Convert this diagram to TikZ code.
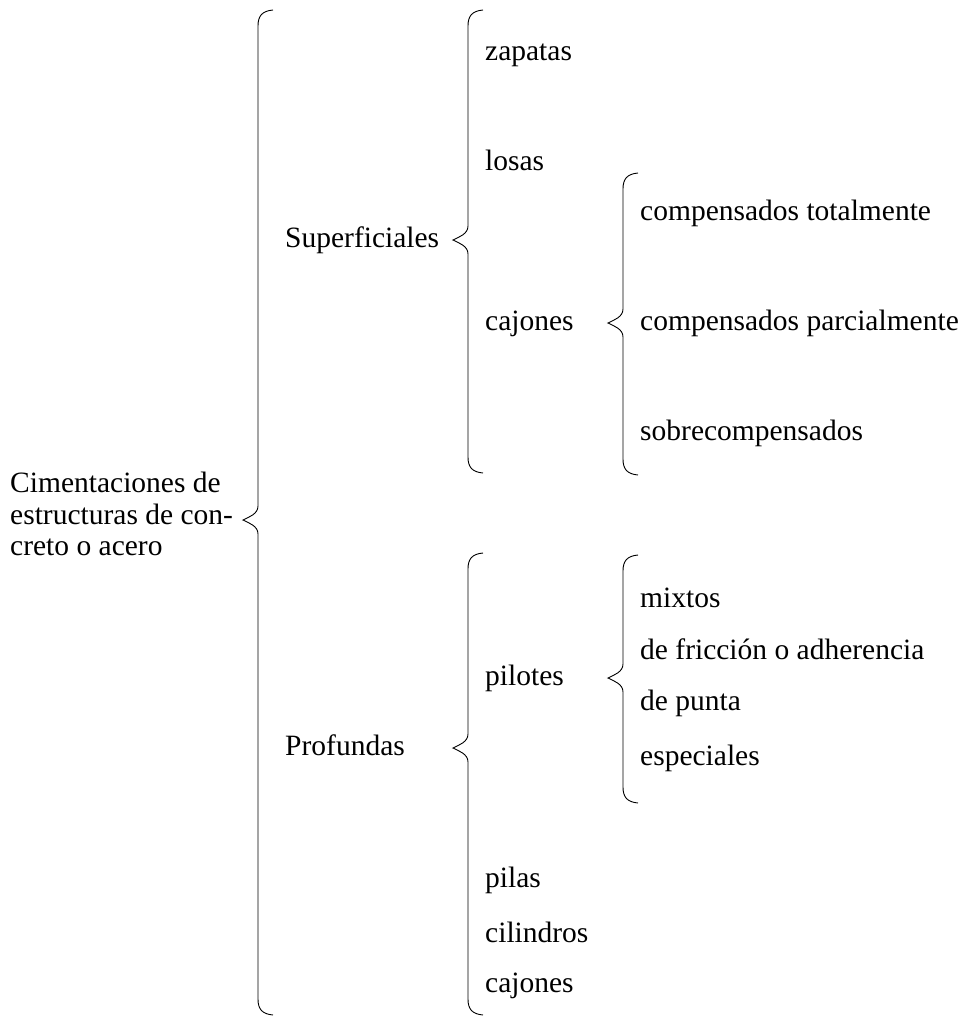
\documentclass[tikz,border=0pt]{standalone}
\usepackage{fontspec}
\setmainfont{Liberation Serif}
\usepackage{tikz}
\usetikzlibrary{positioning}

% llave: x, top, tip, bottom
\newcommand{\llave}[4]{%
  \draw[llave] (#1+15,#2) .. controls (#1+4,#2+1) and (#1,#2+6) .. (#1,#2+16)
    -- (#1,#3-14) .. controls (#1,#3-6) and (#1-9,#3-3) .. (#1-15,#3)
    .. controls (#1-9,#3+3) and (#1,#3+6) .. (#1,#3+14)
    -- (#1,#4-16) .. controls (#1,#4-6) and (#1+4,#4-1) .. (#1+15,#4);}

\begin{document}
\begin{tikzpicture}[
        x=1pt, y=-1pt,
        lbl/.style={anchor=base west, inner sep=0pt, font=\fontsize{29.5}{31.5}\selectfont},
        llave/.style={line width=0.9pt, black}
    ]
    \useasboundingbox (0,0) rectangle (978,1021);
    % raiz
    \node[lbl, anchor=west, align=left] (cim) at (10,514) {Cimentaciones de\\estructuras de con-\\creto o acero};
    \llave{258}{10}{520}{1015}
    % superficiales
    \node[lbl] (sup) at (285,247) {Superficiales};
    \llave{468}{10}{240}{473}
    \node[lbl] (zap) at (485,60) {zapatas};
    \node[lbl] (losas) at (485,170) {losas};
    \node[lbl] (cajsup) at (485,330) {cajones};
    \llave{623}{173}{323}{475}
    \node[lbl] (ctot) at (640,220) {compensados totalmente};
    \node[lbl] (cpar) at (640,330) {compensados parcialmente};
    \node[lbl] (sobre) at (640,440) {sobrecompensados};
    % profundas
    \node[lbl] (prof) at (285,755) {Profundas};
    \llave{468}{553}{748}{1015}
    \node[lbl] (pil) at (485,685) {pilotes};
    \llave{623}{555}{678}{803}
    \node[lbl] (mix) at (640,607) {mixtos};
    \node[lbl] (fric) at (640,659) {de fricción o adherencia};
    \node[lbl] (punta) at (640,710) {de punta};
    \node[lbl] (esp) at (640,765) {especiales};
    \node[lbl] (pilas) at (485,887) {pilas};
    \node[lbl] (cil) at (485,942) {cilindros};
    \node[lbl] (cajprof) at (485,992) {cajones};
\end{tikzpicture}
\end{document}
